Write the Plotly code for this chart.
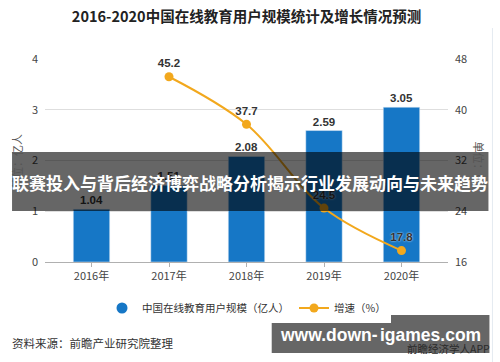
import plotly.graph_objects as go

years = ["2016年", "2017年", "2018年", "2019年", "2020年"]
users = [1.04, 1.51, 2.08, 2.59, 3.05]
growth = [None, 45.2, 37.7, 24.5, 17.8]
bar_name = "中国在线教育用户规模（亿人）"
line_name = "增速（%）"
title_text = "2016-2020中国在线教育用户规模统计及增长情况预测"
banner_text = "联赛投入与背后经济博弈战略分析揭示行业发展动向与未来趋势"
source_text = "资料来源：前瞻产业研究院整理"
wm_part1 = "www.down-"
wm_part2 = "igames.com"

CJK = "Noto Sans CJK SC, Liberation Sans, sans-serif"
BLUE = "#1677c6"
ORANGE = "#f2a81d"

# plot area in pixels
L, R, T, B = 45, 448.5, 59, 262
W, H = R - L, B - T
def px(x):
    return (x - L) / W
def py(y):
    return (B - y) / H

fig = go.Figure()
fig.add_trace(go.Bar(
    x=years, y=users, name=bar_name, marker_color=BLUE, width=0.47,
    text=[f"{v:.2f}" for v in users], textposition="outside",
    textfont=dict(size=11.5, color="#333", family="Liberation Sans, sans-serif", weight="bold"),
    cliponaxis=False, showlegend=False,
))
fig.add_trace(go.Scatter(
    x=[years[0]], y=[None], mode="markers", name=bar_name,
    marker=dict(color=BLUE, size=11, symbol="circle"), showlegend=True,
))
fig.add_trace(go.Scatter(
    x=years, y=growth, name=line_name, yaxis="y2", mode="lines+markers+text",
    line=dict(color=ORANGE, width=2, shape="spline"),
    marker=dict(color=ORANGE, size=9),
    text=[("" if v is None else f"{v}") for v in growth], textposition="top center",
    textfont=dict(size=11.5, color="#333", family="Liberation Sans, sans-serif", weight="bold",
                  shadow="0px 0px 2px white"),
    cliponaxis=False,
))

WMF = dict(size=17.5, color="white", family="Liberation Sans, sans-serif", weight="bold")

def ann(text, x, y, xanchor="center", **kw):
    return dict(text=text, xref="paper", yref="paper", x=px(x), y=py(y), xanchor=xanchor,
                yanchor="middle", showarrow=False, **kw)

fig.update_layout(
    width=500, height=362,
    margin=dict(l=L, r=500 - R, t=T, b=362 - B),
    paper_bgcolor="white", plot_bgcolor="white",
    font=dict(family=CJK, size=11, color="#444"),
    bargap=0.5,
    xaxis=dict(range=[-0.6, 4.6], showline=True, linecolor="#b0b0b0", ticks="outside",
               ticklen=4, tickcolor="#b0b0b0", tickfont=dict(size=11, color="#444"),
               showgrid=False),
    yaxis=dict(range=[0, 4], dtick=1, showgrid=True, gridcolor="#dedede", zeroline=False,
               tickfont=dict(size=11, color="#444"), ticklabelstandoff=6),
    yaxis2=dict(range=[16, 48], dtick=8, overlaying="y", side="right", showgrid=False,
                zeroline=False, tickfont=dict(size=11, color="#444"), ticklabelstandoff=6),
    legend=dict(orientation="h", x=0.5, xanchor="center", y=py(308), yanchor="middle",
                font=dict(size=10.5, color="#333"), itemwidth=30),
    title=dict(text=title_text, x=0.5, xref="paper", y=1 - 17 / 362, yanchor="middle",
               font=dict(size=14.5, color="#222", family=CJK, weight="bold")),
    shapes=[
        dict(type="line", xref="paper", yref="paper", x0=px(493), x1=px(493), y0=py(28), y1=py(362),
             line=dict(color="#e4eaf1", width=1)),
        dict(type="rect", xref="paper", yref="paper", x0=px(12), x1=px(489), y0=py(211), y1=py(152),
             fillcolor="rgba(0,0,0,0.6)", line=dict(width=0), layer="above"),
        dict(type="rect", xref="paper", yref="paper", x0=px(272), x1=px(490), y0=py(353), y1=py(315),
             fillcolor="rgba(0,0,0,0.6)", line=dict(width=0), layer="above"),
    ],
    annotations=[
        ann("单位：亿人", 17, 162, textangle=-90, font=dict(size=11, color="#555")),
        ann("单位：%", 480, 163, textangle=90, font=dict(size=11, color="#555")),
        ann(banner_text, 250, 182, font=dict(size=17, color="white", family=CJK, weight="bold")),
        ann(source_text, 10, 343, xanchor="left", font=dict(size=11.5, color="#333")),
        ann("前瞻经济学人APP", 493, 348, xanchor="right", font=dict(size=10.5, color="#2a2a2a")),
        ann(wm_part1, 379, 335, xanchor="right", font=WMF, borderpad=0),
        ann(wm_part2, 379, 335, xanchor="left", font=WMF, borderpad=0),
    ],
)

fig.write_html("out.html", post_script="document.body.style.margin='0';",
               config={"displayModeBar": False})
